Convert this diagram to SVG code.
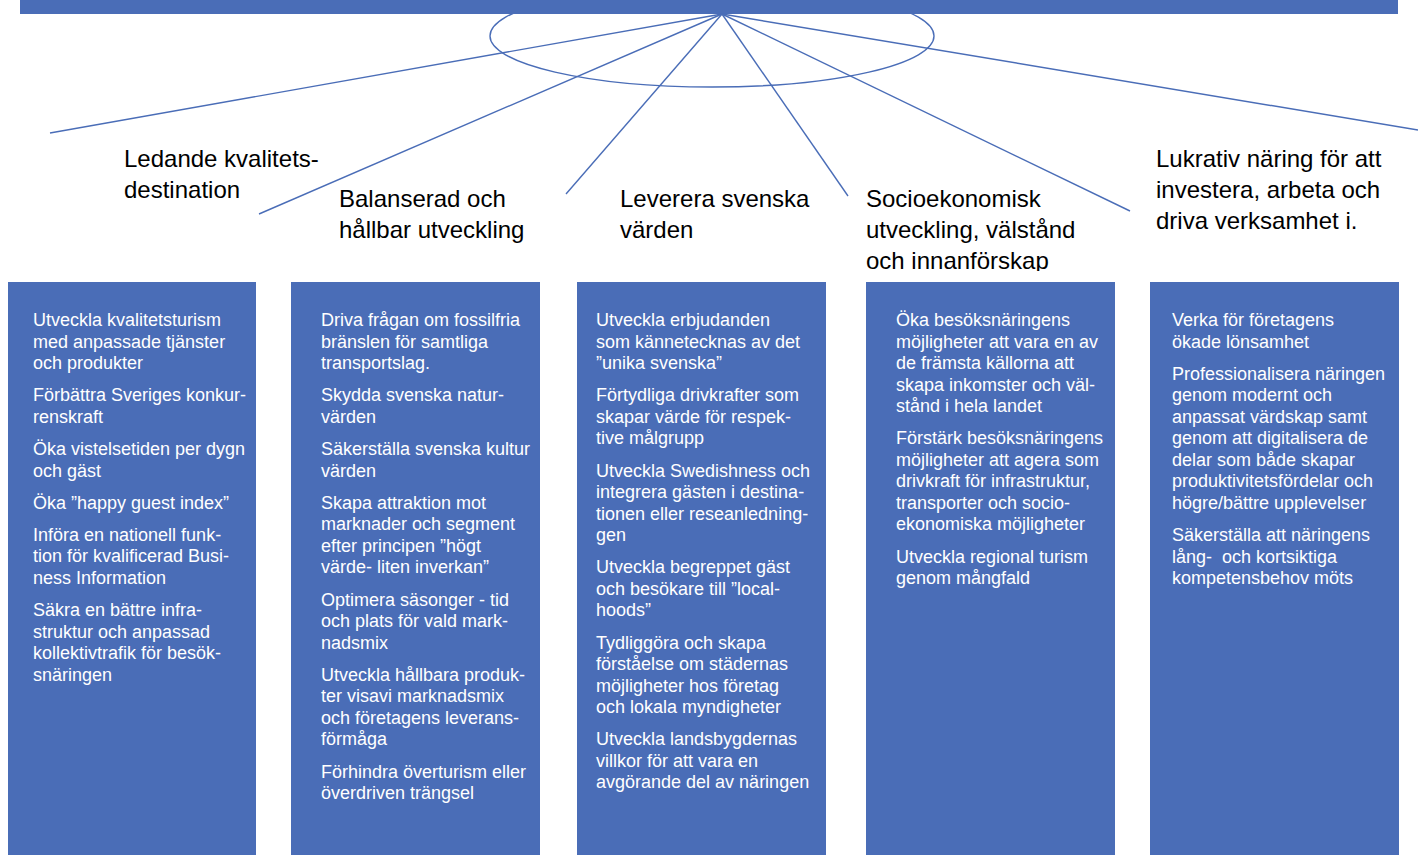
<svg xmlns="http://www.w3.org/2000/svg" width="1418" height="855" viewBox="0 0 1418 855">
  <style>
    .bar { fill: #4A6DB7; }
    .box { fill: #4A6DB7; }
    .fan { stroke: #4A6DB7; stroke-width: 1.4; fill: none; }
    .head { font-family: "Liberation Sans", Arial, sans-serif; font-size: 24px; fill: #000000; }
    .body { font-family: "Liberation Sans", Arial, sans-serif; font-size: 18px; fill: #FFFFFF; }
  </style>
  <defs>
    <clipPath id="clip-head4">
      <rect x="850" y="170" width="290" height="101"/>
    </clipPath>
  </defs>

  <rect width="1418" height="855" fill="#FFFFFF"/>

  <!-- hub: bar with ellipse beneath it -->
  <g id="hub">
    <ellipse class="fan" cx="712" cy="36" rx="222" ry="51"/>
    <rect class="bar" x="20" y="0" width="1378" height="14"/>
  </g>

  <!-- fan of lines spreading from the hub -->
  <g id="connectors">
    <line class="fan" x1="722" y1="14" x2="50" y2="133"/>
    <line class="fan" x1="722" y1="14" x2="259" y2="214"/>
    <line class="fan" x1="722" y1="14" x2="566" y2="194"/>
    <line class="fan" x1="722" y1="14" x2="848" y2="196"/>
    <line class="fan" x1="722" y1="14" x2="1130" y2="211"/>
    <line class="fan" x1="722" y1="14" x2="1418" y2="130"/>
  </g>

  <!-- headings -->
  <g id="head-1">
    <text class="head" x="124" y="167">Ledande kvalitets-</text>
    <text class="head" x="124" y="198">destination</text>
  </g>
  <g id="head-2">
    <text class="head" x="339" y="207">Balanserad och</text>
    <text class="head" x="339" y="238">hållbar utveckling</text>
  </g>
  <g id="head-3">
    <text class="head" x="620" y="207">Leverera svenska</text>
    <text class="head" x="620" y="238">värden</text>
  </g>
  <g id="head-4" clip-path="url(#clip-head4)">
    <text class="head" x="866" y="207">Socioekonomisk</text>
    <text class="head" x="866" y="238">utveckling, välstånd</text>
    <text class="head" x="866" y="269">och innanförskap</text>
  </g>
  <g id="head-5">
    <text class="head" x="1156" y="167">Lukrativ näring för att</text>
    <text class="head" x="1156" y="198">investera, arbeta och</text>
    <text class="head" x="1156" y="229">driva verksamhet i.</text>
  </g>

  <!-- column 1 -->
  <g id="box-1">
    <rect class="box" x="8" y="282" width="248" height="573"/>
    <text class="body" x="33">
      <tspan x="33" y="326">Utveckla kvalitetsturism</tspan>
      <tspan x="33" y="347.5">med anpassade tjänster</tspan>
      <tspan x="33" y="369">och produkter</tspan>
      <tspan x="33" y="401">Förbättra Sveriges konkur-</tspan>
      <tspan x="33" y="422.5">renskraft</tspan>
      <tspan x="33" y="455">Öka vistelsetiden per dygn</tspan>
      <tspan x="33" y="476.5">och gäst</tspan>
      <tspan x="33" y="508.5">Öka ”happy guest index”</tspan>
      <tspan x="33" y="540.5">Införa en nationell funk-</tspan>
      <tspan x="33" y="562">tion för kvalificerad Busi-</tspan>
      <tspan x="33" y="583.5">ness Information</tspan>
      <tspan x="33" y="616">Säkra en bättre infra-</tspan>
      <tspan x="33" y="637.5">struktur och anpassad</tspan>
      <tspan x="33" y="659">kollektivtrafik för besök-</tspan>
      <tspan x="33" y="680.5">snäringen</tspan>
    </text>
  </g>

  <!-- column 2 -->
  <g id="box-2">
    <rect class="box" x="291" y="282" width="249" height="573"/>
    <text class="body" x="321">
      <tspan x="321" y="326">Driva frågan om fossilfria</tspan>
      <tspan x="321" y="347.5">bränslen för samtliga</tspan>
      <tspan x="321" y="369">transportslag.</tspan>
      <tspan x="321" y="401">Skydda svenska natur-</tspan>
      <tspan x="321" y="422.5">värden</tspan>
      <tspan x="321" y="455">Säkerställa svenska kultur</tspan>
      <tspan x="321" y="476.5">värden</tspan>
      <tspan x="321" y="508.5">Skapa attraktion mot</tspan>
      <tspan x="321" y="530">marknader och segment</tspan>
      <tspan x="321" y="551.5">efter principen ”högt</tspan>
      <tspan x="321" y="573">värde- liten inverkan”</tspan>
      <tspan x="321" y="605.5">Optimera säsonger - tid</tspan>
      <tspan x="321" y="627">och plats för vald mark-</tspan>
      <tspan x="321" y="648.5">nadsmix</tspan>
      <tspan x="321" y="680.5">Utveckla hållbara produk-</tspan>
      <tspan x="321" y="702">ter visavi marknadsmix</tspan>
      <tspan x="321" y="723.5">och företagens leverans-</tspan>
      <tspan x="321" y="745">förmåga</tspan>
      <tspan x="321" y="777.5">Förhindra överturism eller</tspan>
      <tspan x="321" y="799">överdriven trängsel</tspan>
    </text>
  </g>

  <!-- column 3 -->
  <g id="box-3">
    <rect class="box" x="577" y="282" width="249" height="573"/>
    <text class="body" x="596">
      <tspan x="596" y="326">Utveckla erbjudanden</tspan>
      <tspan x="596" y="347.5">som kännetecknas av det</tspan>
      <tspan x="596" y="369">”unika svenska”</tspan>
      <tspan x="596" y="401">Förtydliga drivkrafter som</tspan>
      <tspan x="596" y="422.5">skapar värde för respek-</tspan>
      <tspan x="596" y="444">tive målgrupp</tspan>
      <tspan x="596" y="476.5">Utveckla Swedishness och</tspan>
      <tspan x="596" y="498">integrera gästen i destina-</tspan>
      <tspan x="596" y="519.5">tionen eller reseanledning-</tspan>
      <tspan x="596" y="541">gen</tspan>
      <tspan x="596" y="573">Utveckla begreppet gäst</tspan>
      <tspan x="596" y="594.5">och besökare till ”local-</tspan>
      <tspan x="596" y="616">hoods”</tspan>
      <tspan x="596" y="648.5">Tydliggöra och skapa</tspan>
      <tspan x="596" y="670">förståelse om städernas</tspan>
      <tspan x="596" y="691.5">möjligheter hos företag</tspan>
      <tspan x="596" y="713">och lokala myndigheter</tspan>
      <tspan x="596" y="745">Utveckla landsbygdernas</tspan>
      <tspan x="596" y="766.5">villkor för att vara en</tspan>
      <tspan x="596" y="788">avgörande del av näringen</tspan>
    </text>
  </g>

  <!-- column 4 -->
  <g id="box-4">
    <rect class="box" x="866" y="282" width="249" height="573"/>
    <text class="body" x="896">
      <tspan x="896" y="326">Öka besöksnäringens</tspan>
      <tspan x="896" y="347.5">möjligheter att vara en av</tspan>
      <tspan x="896" y="369">de främsta källorna att</tspan>
      <tspan x="896" y="390.5">skapa inkomster och väl-</tspan>
      <tspan x="896" y="412">stånd i hela landet</tspan>
      <tspan x="896" y="444">Förstärk besöksnäringens</tspan>
      <tspan x="896" y="465.5">möjligheter att agera som</tspan>
      <tspan x="896" y="487">drivkraft för infrastruktur,</tspan>
      <tspan x="896" y="508.5">transporter och socio-</tspan>
      <tspan x="896" y="530">ekonomiska möjligheter</tspan>
      <tspan x="896" y="562.5">Utveckla regional turism</tspan>
      <tspan x="896" y="584">genom mångfald</tspan>
    </text>
  </g>

  <!-- column 5 -->
  <g id="box-5">
    <rect class="box" x="1150" y="282" width="249" height="573"/>
    <text class="body" x="1172" xml:space="preserve"><tspan x="1172" y="326">Verka för företagens</tspan><tspan x="1172" y="347.5">ökade lönsamhet</tspan><tspan x="1172" y="379.5">Professionalisera näringen</tspan><tspan x="1172" y="401">genom modernt och</tspan><tspan x="1172" y="422.5">anpassat värdskap samt</tspan><tspan x="1172" y="444">genom att digitalisera de</tspan><tspan x="1172" y="465.5">delar som både skapar</tspan><tspan x="1172" y="487">produktivitetsfördelar och</tspan><tspan x="1172" y="508.5">högre/bättre upplevelser</tspan><tspan x="1172" y="541">Säkerställa att näringens</tspan><tspan x="1172" y="562.5">lång-  och kortsiktiga</tspan><tspan x="1172" y="584">kompetensbehov möts</tspan></text>
  </g>
</svg>
